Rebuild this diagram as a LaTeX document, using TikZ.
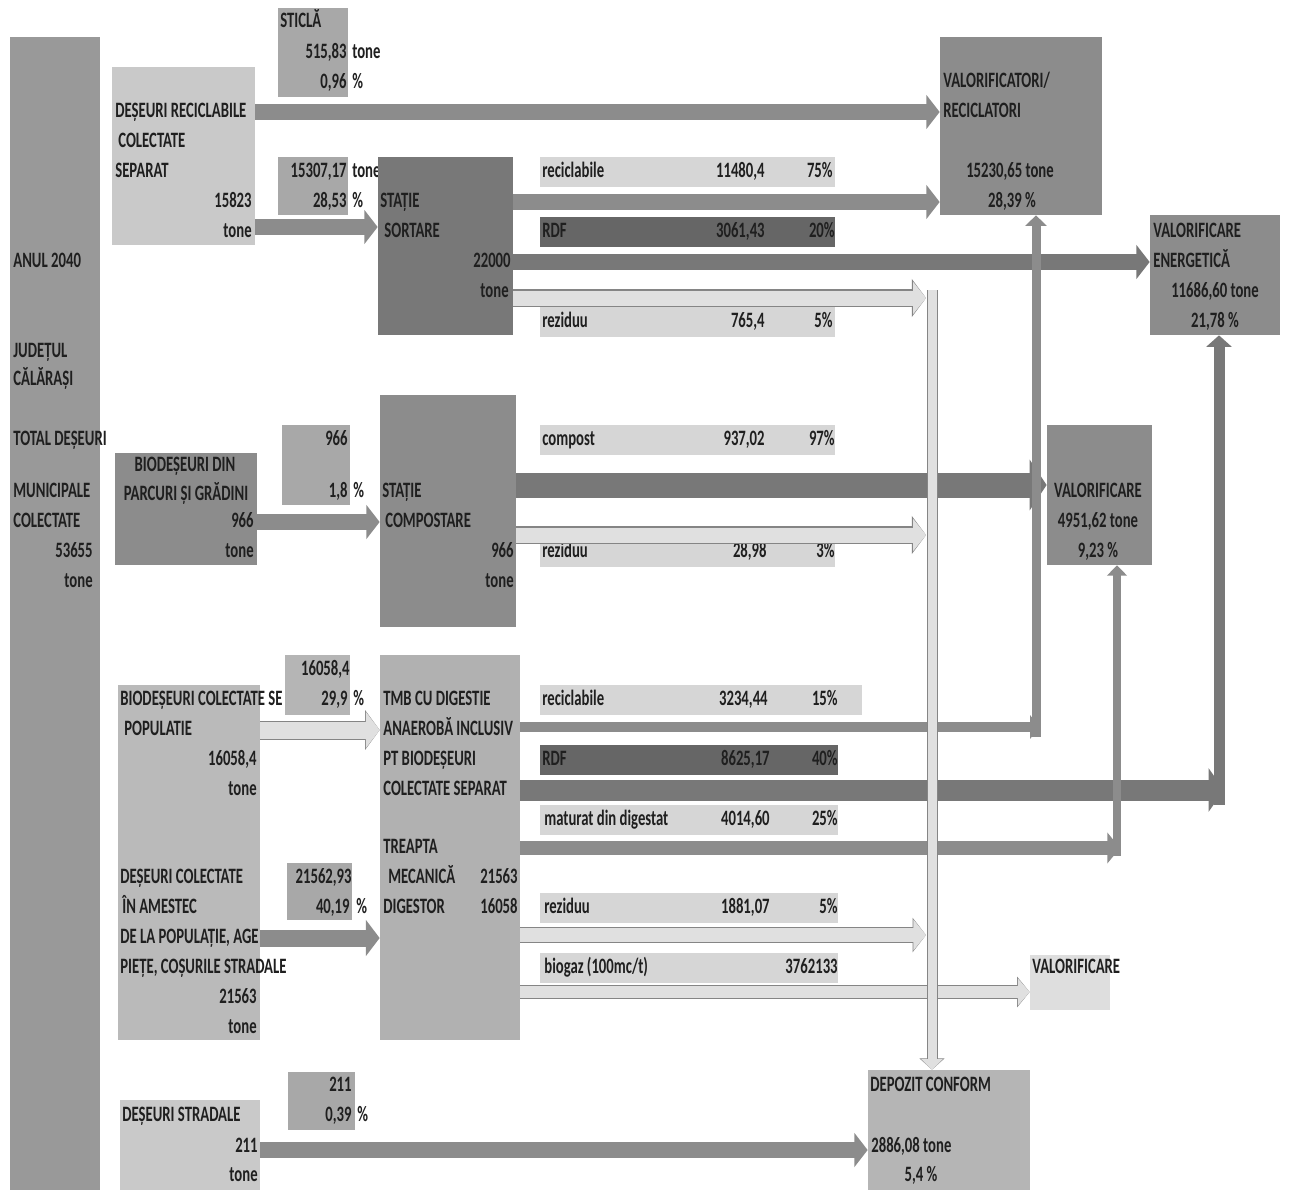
\documentclass[tikz,border=0pt]{standalone}
\usepackage{fontspec}
\setmainfont{Carlito}[FakeStretch=0.67]
\usetikzlibrary{arrows.meta,fit,positioning}

\definecolor{leftbar}{gray}{0.60}
\definecolor{boxlt}{gray}{0.79}
\definecolor{boxsm}{gray}{0.66}
\definecolor{boxmd}{gray}{0.55}
\definecolor{boxdk}{gray}{0.47}
\definecolor{barlt}{gray}{0.84}
\definecolor{bardk}{gray}{0.40}
\definecolor{arrmd}{gray}{0.55}
\definecolor{arrdk}{gray}{0.47}
\definecolor{arrlt}{gray}{0.88}
\definecolor{arredge}{gray}{0.52}
\definecolor{ink}{gray}{0.12}

\tikzset{
  box/.style={inner sep=0pt, draw=none, fill=#1},
  txt/.style={inner sep=0pt, text height=1.6ex, text depth=0.4ex, text=ink},
  lt/.style={txt, anchor=west},
  rt/.style={txt, anchor=east},
  ct/.style={txt, anchor=center},
  tip/.style={-{Triangle[length=0.14cm 0.4,width=0.1cm 1.8]}},
  flow/.style={line width=#1, draw=arrmd, tip},
  flowdk/.style={line width=#1, draw=arrdk, tip},
  flowlt/.style 2 args={preaction={draw=arredge, line width=#2, tip},
    line width=#1, draw=arrlt, tip},
}

\begin{document}
\begin{tikzpicture}[x=0.02cm, y=-0.02cm, font=\fontsize{12.5}{14}\selectfont\bfseries]
\fill[white] (0,0) rectangle (1289,1190);
\useasboundingbox (0,0) rectangle (1289,1190);

% total column
\node[box=leftbar, fit={(10,37) (100,1190)}] (total) {};
\node[lt] (t1) at (13,262) {ANUL 2040};
\node[lt] (t2) at (13,352) {JUDEȚUL};
\node[lt] (t3) at (13,380) {CĂLĂRAȘI};
\node[lt] (t4) at (13,440) {TOTAL DEȘEURI};
\node[lt] (t5) at (13,492) {MUNICIPALE};
\node[lt] (t6) at (13,522) {COLECTATE};
\node[rt] (t7) at (93,552) {53655};
\node[rt] (t8) at (93,582) {tone};

% reciclabile -> sortare
\node[box=boxlt, fit={(112,67) (255,245)}] (dr) {};
\node[lt] (dr1) at (115,112) {DEȘEURI RECICLABILE};
\node[lt] (dr2) at (118,142) {COLECTATE};
\node[lt] (dr3) at (115,172) {SEPARAT};
\node[rt] (dr4) at (252,202) {15823};
\node[rt] (dr5) at (252,232) {tone};

\node[box=boxsm, fit={(278,8) (348,97)}] (st) {};
\node[lt] (st1) at (280,22) {STICLĂ};
\node[rt] (st2) at (347,53) {515,83};
\node[lt] (st3) at (352,53) {tone};
\node[rt] (st4) at (347,83) {0,96};
\node[lt] (st5) at (352,83) {\%};

\node[box=boxsm, fit={(278,157) (348,215)}] (ds) {};
\node[rt] (ds1) at (347,172) {15307,17};
\node[lt] (ds2) at (352,172) {tone};
\node[rt] (ds3) at (347,202) {28,53};
\node[lt] (ds4) at (352,202) {\%};

\node[box=boxdk, fit={(378,157) (513,335)}] (ss) {};
\node[lt] (ss1) at (380,202) {STAȚIE};
\node[lt] (ss2) at (384,232) {SORTARE};
\node[rt] (ss3) at (511,262) {22000};
\node[rt] (ss4) at (509,292) {tone};

\node[box=barlt, fit={(540,157) (835,187)}] (sr) {};
\node[lt] (sr1) at (542,172) {reciclabile};
\node[rt] (sr2) at (765,172) {11480,4};
\node[rt] (sr3) at (833,172) {75\%};
\node[box=bardk, fit={(540,217) (835,247)}] (sd) {};
\node[lt] (sd1) at (542,232) {RDF};
\node[rt] (sd2) at (765,232) {3061,43};
\node[rt] (sd3) at (835,232) {20\%};
\node[box=barlt, fit={(540,307) (835,337)}] (sz) {};
\node[lt] (sz1) at (542,322) {reziduu};
\node[rt] (sz2) at (765,322) {765,4};
\node[rt] (sz3) at (833,322) {5\%};

\node[box=boxmd, fit={(940,37) (1102,215)}] (valr) {};
\node[lt] (vr1) at (943,82) {VALORIFICATORI/};
\node[lt] (vr2) at (943,112) {RECICLATORI};
\node[ct] (vr3) at (1010,172) {15230,65 tone};
\node[ct] (vr4) at (1012,202) {28,39 \%};

\node[box=boxmd, fit={(1150,215) (1280,335)}] (ve) {};
\node[lt] (ve1) at (1153,232) {VALORIFICARE};
\node[lt] (ve2) at (1153,262) {ENERGETICĂ};
\node[ct] (ve3) at (1215,292) {11686,60 tone};
\node[ct] (ve4) at (1215,322) {21,78 \%};

% compostare
\node[box=boxsm, fit={(282,425) (350,505)}] (cb) {};
\node[rt] (cb1) at (348,440) {966};
\node[rt] (cb2) at (348,492) {1,8};
\node[lt] (cb3) at (353,492) {\%};

\node[box=boxmd, fit={(115,453) (257,565)}] (bd) {};
\node[ct] (bd1) at (185,466) {BIODEȘEURI DIN};
\node[ct] (bd2) at (186,495) {PARCURI ȘI GRĂDINI};
\node[rt] (bd3) at (254,522) {966};
\node[rt] (bd4) at (254,552) {tone};

\node[box=boxmd, fit={(380,395) (516,627)}] (sc) {};
\node[lt] (sc1) at (382,492) {STAȚIE};
\node[lt] (sc2) at (385,522) {COMPOSTARE};
\node[rt] (sc3) at (514,552) {966};
\node[rt] (sc4) at (514,582) {tone};

\node[box=barlt, fit={(540,425) (835,455)}] (cp) {};
\node[lt] (cp1) at (542,440) {compost};
\node[rt] (cp2) at (765,440) {937,02};
\node[rt] (cp3) at (835,440) {97\%};
\node[box=barlt, fit={(540,537) (835,567)}] (cz) {};
\node[lt] (cz1) at (542,552) {reziduu};
\node[rt] (cz2) at (767,552) {28,98};
\node[rt] (cz3) at (835,552) {3\%};

\node[box=boxmd, fit={(1047,425) (1152,565)}] (val) {};
\node[ct] (va1) at (1098,492) {VALORIFICARE};
\node[ct] (va2) at (1098,522) {4951,62 tone};
\node[ct] (va3) at (1098,552) {9,23 \%};

% TMB
\node[box=boxsm!80!white, fit={(118,685) (260,1040)}] (bc) {};
\node[lt] (bc1) at (120,700) {BIODEȘEURI COLECTATE SE};
\node[lt] (bc2) at (124,730) {POPULATIE};
\node[rt] (bc3) at (257,760) {16058,4};
\node[rt] (bc4) at (257,790) {tone};
\node[lt] (bc5) at (120,878) {DEȘEURI COLECTATE};
\node[lt] (bc6) at (122,908) {ÎN AMESTEC};
\node[lt] (bc7) at (120,938) {DE LA POPULAȚIE, AGE};
\node[lt] (bc8) at (120,968) {PIEȚE, COȘURILE STRADALE};
\node[rt] (bc9) at (257,998) {21563};
\node[rt] (bc10) at (257,1028) {tone};

\node[box=boxlt!90!black, fit={(285,655) (350,715)}] (bb) {};
\node[rt] (bb1) at (350,670) {16058,4};
\node[rt] (bb2) at (348,700) {29,9};
\node[lt] (bb3) at (353,700) {\%};

\node[box=boxsm, fit={(287,863) (352,920)}] (ab) {};
\node[rt] (ab1) at (352,878) {21562,93};
\node[rt] (ab2) at (350,908) {40,19};
\node[lt] (ab3) at (356,908) {\%};

\node[box=boxsm!90!white, fit={(380,655) (520,1040)}] (tmb) {};
\node[lt] (tm1) at (383,700) {TMB CU DIGESTIE};
\node[lt] (tm2) at (383,730) {ANAEROBĂ INCLUSIV};
\node[lt] (tm3) at (383,760) {PT BIODEȘEURI};
\node[lt] (tm4) at (383,790) {COLECTATE SEPARAT};
\node[lt] (tm5) at (383,848) {TREAPTA};
\node[lt] (tm6) at (388,878) {MECANICĂ};
\node[rt] (tm7) at (518,878) {21563};
\node[lt] (tm8) at (383,908) {DIGESTOR};
\node[rt] (tm9) at (518,908) {16058};

\node[box=barlt, fit={(540,685) (862,715)}] (tr) {};
\node[lt] (tr1) at (542,700) {reciclabile};
\node[rt] (tr2) at (768,700) {3234,44};
\node[rt] (tr3) at (838,700) {15\%};
\node[box=bardk, fit={(540,745) (838,775)}] (td) {};
\node[lt] (td1) at (542,760) {RDF};
\node[rt] (td2) at (770,760) {8625,17};
\node[rt] (td3) at (838,760) {40\%};
\node[box=barlt, fit={(540,805) (838,835)}] (tt) {};
\node[lt] (tt1) at (544,820) {maturat din digestat};
\node[rt] (tt2) at (770,820) {4014,60};
\node[rt] (tt3) at (838,820) {25\%};
\node[box=barlt, fit={(540,893) (838,923)}] (tz) {};
\node[lt] (tz1) at (544,908) {reziduu};
\node[rt] (tz2) at (770,908) {1881,07};
\node[rt] (tz3) at (838,908) {5\%};
\node[box=barlt, fit={(540,953) (838,983)}] (tg) {};
\node[lt] (tg1) at (544,968) {biogaz (100mc/t)};
\node[rt] (tg2) at (838,968) {3762133};

\node[box=barlt!80!white, fit={(1030,955) (1110,1010)}] (vall) {};
\node[lt] (vl1) at (1032,968) {VALORIFICARE};

% stradale + depozit
\node[box=boxsm, fit={(288,1072) (355,1130)}] (sb) {};
\node[rt] (sb1) at (352,1086) {211};
\node[rt] (sb2) at (352,1116) {0,39};
\node[lt] (sb3) at (357,1116) {\%};

\node[box=boxlt, fit={(120,1100) (260,1190)}] (dst) {};
\node[lt] (dt1) at (122,1116) {DEȘEURI STRADALE};
\node[rt] (dt2) at (258,1147) {211};
\node[rt] (dt3) at (258,1176) {tone};

\node[box=boxlt!90!black, fit={(868,1070) (1030,1190)}] (dep) {};
\node[lt] (dp1) at (870,1086) {DEPOZIT CONFORM};
\node[lt] (dp2) at (871,1147) {2886,08 tone};
\node[ct] (dp3) at (921,1176) {5,4 \%};

% corners of the collecting lines
\coordinate (rzt) at (932,290);
\coordinate (rzin) at (926,0);
\coordinate (rcx) at (1036,0);
\coordinate (rdx) at (1219,0);
\coordinate (mtx) at (1117,0);

% flows
\draw[flow=0.32cm] (dr.east |- 0,112) -- (valr.west |- 0,112);
\draw[flow=0.32cm] (dr.east |- 0,227) -- (ss.west |- 0,227);
\draw[flow=0.32cm] (ss.east |- 0,202) -- (valr.west |- 0,202);
\draw[flowdk=0.32cm] (ss.east |- 0,262) -- (ve.west |- 0,262);
\draw[flowlt={0.3cm}{0.36cm}] (ss.east |- 0,298) -- (rzin |- 0,298);

\draw[flow=0.32cm] (bd.east |- 0,522) -- (sc.west |- 0,522);
\draw[flowdk=0.5cm] (sc.east |- 0,485) -- (val.west |- 0,485);
\draw[flowlt={0.3cm}{0.36cm}] (sc.east |- 0,535) -- (rzin |- 0,535);

\draw[flowlt={0.34cm}{0.38cm}] (bc.east |- 0,730) -- (tmb.west |- 0,730);
\draw[flow=0.34cm] (bc.east |- 0,938) -- (tmb.west |- 0,938);

\draw[flow=0.2cm] (tmb.east |- 0,727) -- ([xshift=0.1cm]rcx |- 0,727);
\draw[flowdk=0.42cm] (tmb.east |- 0,790) -- ([xshift=0.1cm]rdx |- 0,790);
\draw[flow=0.28cm] (tmb.east |- 0,848) -- ([xshift=0.06cm]mtx |- 0,848);
\draw[flowlt={0.28cm}{0.32cm}] (tmb.east |- 0,935) -- (rzin |- 0,935);
\draw[flowlt={0.24cm}{0.28cm}] (tmb.east |- 0,992) -- (vall.west |- 0,992);
\draw[flow=0.32cm] (dst.east |- 0,1150) -- (dep.west |- 0,1150);

% vertical returns
\draw[flow=0.18cm] (rcx |- 0,737) -- (rcx |- valr.south);
\draw[flowdk=0.22cm] (rdx |- 0,805) -- (rdx |- ve.south);
\draw[flow=0.16cm] (mtx |- 0,856) -- (mtx |- val.south);
\draw[flowlt={0.18cm}{0.22cm}] (rzt) -- (rzt |- dep.north);
\end{tikzpicture}
\end{document}
